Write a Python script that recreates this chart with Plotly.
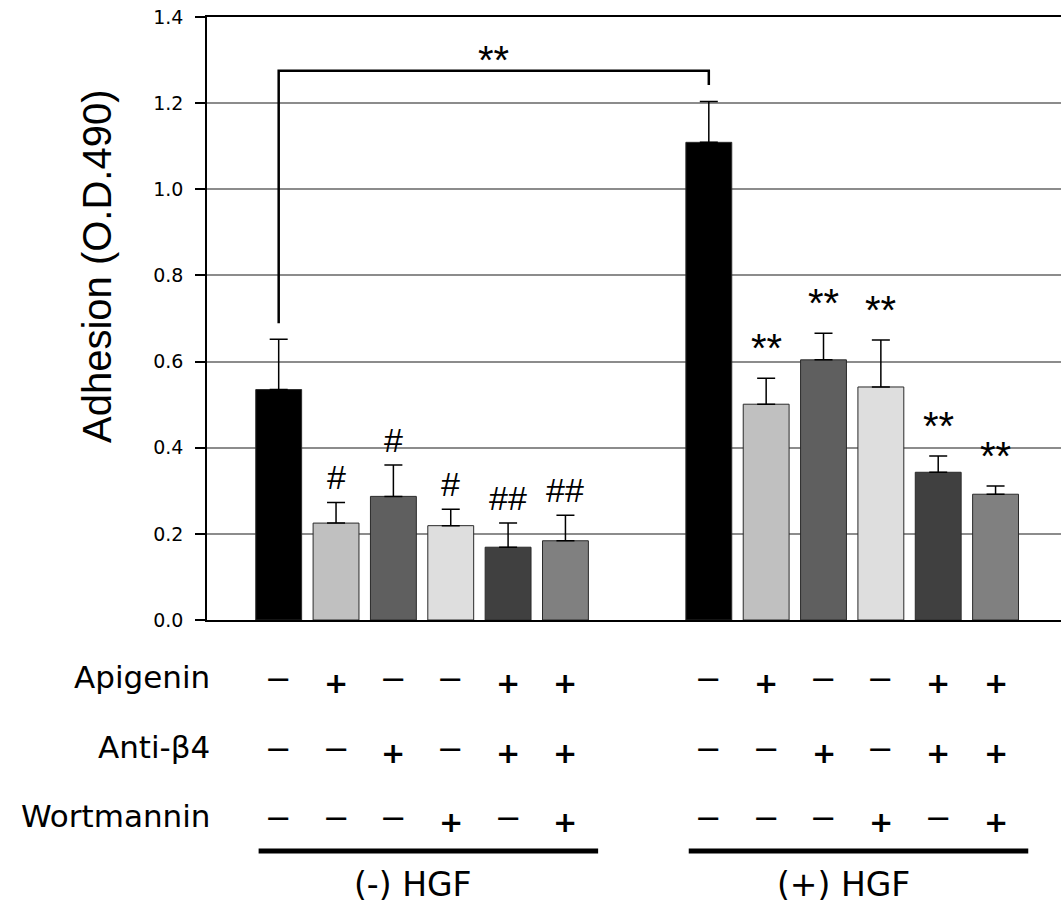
import plotly.graph_objects as go

# ---------------- data ----------------
groups = ["(-) HGF", "(+) HGF"]
conditions = ["Control", "Apigenin", "Anti-β4", "Wortmannin",
              "Apigenin + Anti-β4", "Apigenin + Anti-β4 + Wortmannin"]
adhesion_no_hgf = [0.535, 0.225, 0.287, 0.219, 0.169, 0.184]
adhesion_hgf = [1.109, 0.501, 0.604, 0.541, 0.343, 0.292]
sem_no_hgf = [0.117, 0.048, 0.073, 0.038, 0.056, 0.059]
sem_hgf = [0.095, 0.060, 0.062, 0.109, 0.038, 0.019]
sig_no_hgf = ["", "#", "#", "#", "##", "##"]
sig_hgf = ["", "**", "**", "**", "**", "**"]
row_labels = ["Apigenin", "Anti-β4", "Wortmannin"]
apigenin = ["−", "+", "−", "−", "+", "+"]
anti_b4 = ["−", "−", "+", "−", "+", "+"]
wortmannin = ["−", "−", "−", "+", "−", "+"]
y_ticks = [0.0, 0.2, 0.4, 0.6, 0.8, 1.0, 1.2, 1.4]
y_title = "Adhesion (O.D.490)"

# ---------------- style ----------------
bar_colors = ["#000000", "#c0c0c0", "#5f5f5f", "#dedede", "#404040", "#808080"]
FONT_T = "Liberation Sans, Arial, sans-serif"
FONT = "DejaVu Sans, Arial, sans-serif"
W, H = 1061, 911
ML, MR, MT, MB = 207, 0, 17, 291
PW, PH = W - ML - MR, H - MT - MB
XMIN, XMAX = -1.25, 13.641
GROUP_GAP = 7.5


def xpos(g, i):
    return g * GROUP_GAP + i


def paper_x(x):
    return (x - XMIN) / (XMAX - XMIN)


def paper_y_px(ypx):
    return (H - MB - ypx) / PH


fig = go.Figure()
all_means = [adhesion_no_hgf, adhesion_hgf]
all_sem = [sem_no_hgf, sem_hgf]
all_sig = [sig_no_hgf, sig_hgf]

for g, grp in enumerate(groups):
    xs = [xpos(g, i) for i in range(len(conditions))]
    fig.add_trace(go.Bar(
        x=xs, y=all_means[g], width=0.8, name=grp,
        marker=dict(color=bar_colors, line=dict(color="#2a2a2a", width=1)),
        error_y=dict(type="data", symmetric=False, array=all_sem[g],
                     arrayminus=[0] * len(all_sem[g]),
                     color="black", thickness=1.5, width=9),
        hovertext=conditions, showlegend=False,
    ))
    # significance marks
    for i, s in enumerate(all_sig[g]):
        if not s:
            continue
        star = "*" in s
        fig.add_annotation(
            x=xs[i], y=all_means[g][i] + all_sem[g][i], xref="x", yref="y",
            text=s, showarrow=False, yanchor="bottom",
            yshift=6 if star else 4,
            font=dict(family=FONT_T, size=40 if star else 34, color="black"))

# bracket between the two controls
top_y = 1.275
xl, xr = xpos(0, 0), xpos(1, 0)
yl = adhesion_no_hgf[0] + sem_no_hgf[0] + 0.037
yr = adhesion_hgf[0] + sem_hgf[0] + 0.038
fig.add_shape(type="path", xref="x", yref="y",
              path=f"M {xl},{yl} L {xl},{top_y} L {xr},{top_y} L {xr},{yr}",
              line=dict(color="black", width=2.5))
fig.add_annotation(x=(xl + xr) / 2, y=top_y, xref="x", yref="y", text="**",
                   showarrow=False, yanchor="bottom", yshift=-13,
                   font=dict(family=FONT_T, size=40, color="black"))

# treatment table below the axis
row_y = [683, 753, 822]
rows = [apigenin, anti_b4, wortmannin]
for r, lab in enumerate(row_labels):
    fig.add_annotation(x=(212 - ML) / PW, y=paper_y_px(row_y[r] - 6), xref="paper",
                       yref="paper", text=lab, showarrow=False,
                       xanchor="right", yanchor="middle",
                       font=dict(family=FONT, size=31, color="black"))
    for g in range(len(groups)):
        for i, sym in enumerate(rows[r]):
            plus = sym == "+"
            fig.add_annotation(
                x=xpos(g, i), y=paper_y_px(row_y[r]), xref="x", yref="paper",
                text=f"<b>{sym}</b>" if plus else sym, showarrow=False,
                xanchor="center", yanchor="middle",
                yshift=0 if plus else 4,
                font=dict(family=FONT, size=29 if plus else 32, color="black"))

for g, grp in enumerate(groups):
    x0 = xpos(g, 0) - 0.35
    x1 = xpos(g, len(conditions) - 1) + 0.57
    fig.add_shape(type="line", xref="paper", yref="paper",
                  x0=paper_x(x0), x1=paper_x(x1),
                  y0=paper_y_px(851), y1=paper_y_px(851),
                  line=dict(color="black", width=5))
    fig.add_annotation(x=(xpos(g, 0) + xpos(g, 5)) / 2 - 0.16, y=paper_y_px(884),
                       xref="x", yref="paper", text=grp, showarrow=False,
                       xanchor="center", yanchor="middle",
                       font=dict(family=FONT, size=33, color="black"))

# y-axis title
fig.add_annotation(x=(97 - ML) / PW, y=paper_y_px(266), xref="paper", yref="paper",
                   text=y_title, textangle=-90, showarrow=False,
                   xanchor="center", yanchor="middle",
                   font=dict(family=FONT_T, size=40, color="black"))

fig.update_layout(
    width=W, height=H,
    margin=dict(l=ML, r=MR, t=MT, b=MB, pad=0),
    paper_bgcolor="white", plot_bgcolor="white",
    bargap=0.2, showlegend=False,
    xaxis=dict(range=[XMIN, XMAX], showticklabels=False, ticks="",
               showgrid=False, zeroline=False, showline=True,
               linecolor="black", linewidth=2, mirror=True),
    yaxis=dict(range=[0, 1.4], tickvals=y_ticks,
               ticktext=[f"{v:.1f}" for v in y_ticks],
               ticks="outside", ticklen=10, tickwidth=1.5, tickcolor="black",
               showline=True, linecolor="black", linewidth=1.5,
               showgrid=True, gridcolor="#8c8c8c", gridwidth=1.5,
               zeroline=False, ticklabelstandoff=8,
               tickfont=dict(family=FONT, size=19, color="black")),
)

fig.write_html("out.html", config={"displayModeBar": False},
               post_script="document.body.style.margin='0';document.body.style.overflow='hidden';")
